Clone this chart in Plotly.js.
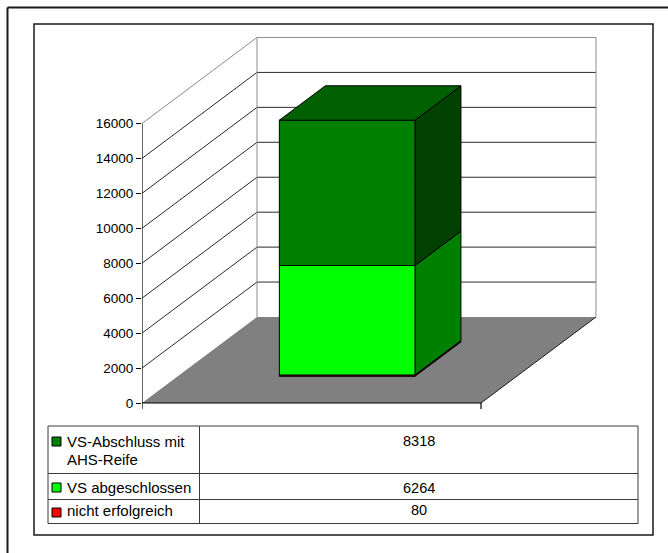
<!DOCTYPE html>
<html><head><meta charset="utf-8">
<script src="https://cdn.plot.ly/plotly-3.0.1.min.js"></script>
<style>html,body{margin:0;padding:0;background:#fff;} #chart{width:668px;height:553px;}</style>
</head><body><div id="chart"></div>
<script>
// ---- data ----
const categories = ['Gesamt'];
const seriesNames = ['nicht erfolgreich', 'VS abgeschlossen', 'VS-Abschluss mit AHS-Reife'];
const seriesValues = [80, 6264, 8318];
const seriesLabelLines = [['nicht erfolgreich'], ['VS abgeschlossen'], ['VS-Abschluss mit', 'AHS-Reife']];
const tickValues = [0, 2000, 4000, 6000, 8000, 10000, 12000, 14000, 16000];
const tickLabels = ['0', '2000', '4000', '6000', '8000', '10000', '12000', '14000', '16000'];
const frontColors = ['#FF0000', '#00FF00', '#008000'];
const sideColors = ['#800000', '#008000', '#004000'];
const topColors = ['#B00000', '#00B000', '#006000'];

// ---- layout geometry (pixels) ----
const W = 668, H = 553;
const M = {l: 142, r: 70, t: 36, b: 144};
const plotW = W - M.l - M.r, plotH = H - M.t - M.b;
const pxPerCat = 339;              // front category width in px
const pxPerUnit = 34.94 / 2000;     // value scale
const depthPx = {x: 115, y: 86};
const DX = depthPx.x / pxPerCat;    // depth shift in category units
const DY = depthPx.y / pxPerUnit;   // depth shift in value units
const yMin = -6 / pxPerUnit;
const yMax = yMin + plotH / pxPerUnit;
const xMax = plotW / pxPerCat;
const barHalf = 0.2, bd0 = 0.31, bd1 = 0.71;
const FONT = 'Liberation Sans, Arial, sans-serif';

function proj(c, v, d) { return [c + d * DX, v + d * DY]; }
function poly(pts, fill, line, lw) {
  const xs = pts.map(p => p[0]), ys = pts.map(p => p[1]);
  xs.push(xs[0]); ys.push(ys[0]);
  return {type: 'scatter', mode: 'lines', x: xs, y: ys, fill: 'toself', fillcolor: fill,
    line: {color: line || fill, width: lw === undefined ? 1 : lw}, hoverinfo: 'skip', showlegend: false};
}
function segs(list, color, width) {
  const xs = [], ys = [];
  list.forEach(s => { xs.push(s[0][0], s[1][0], null); ys.push(s[0][1], s[1][1], null); });
  return {type: 'scatter', mode: 'lines', x: xs, y: ys, line: {color: color, width: width || 1},
    hoverinfo: 'skip', showlegend: false};
}

const traces = [];
// floor
traces.push(poly([proj(0,0,0), proj(categories.length,0,0), proj(categories.length,0,1), proj(0,0,1)], '#808080', '#808080', 0));
// gridlines on walls
const inner = tickValues.filter(v => v > 0 && v < tickValues[tickValues.length-1]);
const topV = tickValues[tickValues.length-1];
const gl = [];
inner.forEach(v => {
  gl.push([proj(0, v, 0), proj(0, v, 1)]);
  gl.push([proj(0, v, 1), proj(categories.length, v, 1)]);
});
traces.push(segs(gl, '#2a2a2a', 1));
traces.push(segs([
  [proj(0, topV, 0), proj(0, topV, 1)],
  [proj(0, topV, 1), proj(categories.length, topV, 1)],
  [proj(0, 0, 1), proj(0, topV, 1)],
  [proj(categories.length, 0, 1), proj(categories.length, topV, 1)]
], '#8c8c8c', 1));
// floor edges / axes
traces.push(segs([
  [proj(categories.length, 0, 0), proj(categories.length, 0, 1)]
], '#1a1a1a', 1));
traces.push(segs([
  [[0, yMin], proj(0, topV, 0)],
  [proj(0, 0, 0), proj(categories.length, 0, 0)],
  [[categories.length, 0], [categories.length, yMin]]
], '#000000', 1.2));

// bars
categories.forEach((cat, ci) => {
  const c0 = ci + 0.5 - barHalf, c1 = ci + 0.5 + barHalf;
  let base = 0;
  seriesValues.forEach((val, si) => {
    const top = base + val;
    traces.push(poly([proj(c1, base, bd0), proj(c1, base, bd1), proj(c1, top, bd1), proj(c1, top, bd0)], sideColors[si], '#000', 1));
    traces.push(poly([proj(c0, base, bd0), proj(c1, base, bd0), proj(c1, top, bd0), proj(c0, top, bd0)], frontColors[si], '#000', 1));
    traces.push(poly([proj(c0, top, bd0), proj(c1, top, bd0), proj(c1, top, bd1), proj(c0, top, bd1)], topColors[si], '#000', 1));
    base = top;
  });
});

// ---- data table (layout decoration in pixel coords) ----
function pxX(x) { return (x - M.l) / plotW; }
function pxY(y) { return (H - M.b - y) / plotH; }
const shapes = [];
function hline(x0, x1, y, color, w) { shapes.push({type: 'line', xref: 'paper', yref: 'paper', x0: pxX(x0), x1: pxX(x1), y0: pxY(y), y1: pxY(y), line: {color: color, width: w}}); }
function vline(x, y0, y1, color, w) { shapes.push({type: 'line', xref: 'paper', yref: 'paper', x0: pxX(x), x1: pxX(x), y0: pxY(y0), y1: pxY(y1), line: {color: color, width: w}}); }
// outer frame (top & left visible)
hline(7.5, 700, 7.5, '#1a1a1a', 2);
vline(7.5, 7.5, 600, '#1a1a1a', 2);
// inner chart area border
shapes.push({type: 'rect', xref: 'paper', yref: 'paper', x0: pxX(34), x1: pxX(653), y0: pxY(535), y1: pxY(24), line: {color: '#1a1a1a', width: 1.5}});

const tbl = {x0: 48, x1: 638, xs: 199.5, rows: [426, 473.5, 499.5, 523.5]};
shapes.push({type: 'rect', xref: 'paper', yref: 'paper', x0: pxX(tbl.x0), x1: pxX(tbl.x1), y0: pxY(tbl.rows[3]), y1: pxY(tbl.rows[0]), line: {color: '#3a3a3a', width: 1}});
hline(tbl.x0, tbl.x1, tbl.rows[1], '#3a3a3a', 1);
hline(tbl.x0, tbl.x1, tbl.rows[2], '#3a3a3a', 1);
vline(tbl.xs, tbl.rows[0], tbl.rows[3], '#3a3a3a', 1);

const annotations = [];
const rowBaselines = [[446, 464], [493], [515]];
const keyTops = [437, 483, 508];
const order = seriesValues.map((v, i) => i).reverse();
order.forEach((si, r) => {
  shapes.push({type: 'rect', xref: 'paper', yref: 'paper', x0: pxX(52), x1: pxX(61), y0: pxY(keyTops[r] + 9), y1: pxY(keyTops[r]),
    fillcolor: frontColors[si], line: {color: '#000', width: 1}});
  seriesLabelLines[si].forEach((txt, li) => {
    annotations.push({xref: 'paper', yref: 'paper', x: pxX(65), y: pxY(rowBaselines[r][li] - 5), xanchor: 'left', yanchor: 'middle',
      text: txt, showarrow: false, font: {family: FONT, size: 15, color: '#000'}});
  });
  annotations.push({xref: 'paper', yref: 'paper', x: pxX((tbl.xs + tbl.x1) / 2), y: pxY(rowBaselines[r][0] - 5), xanchor: 'center', yanchor: 'middle',
    text: String(seriesValues[si]), showarrow: false, font: {family: FONT, size: 14.5, color: '#000'}});
});

const layout = {
  width: W, height: H, margin: M, showlegend: false,
  paper_bgcolor: '#ffffff', plot_bgcolor: 'rgba(0,0,0,0)',
  xaxis: {range: [0, xMax], visible: true, showgrid: false, zeroline: false, showline: false, showticklabels: false, ticks: '', fixedrange: true},
  yaxis: {range: [yMin, yMax], showgrid: false, zeroline: false, showline: false,
    tickmode: 'array', tickvals: tickValues, ticktext: tickLabels, ticks: 'outside', ticklen: 5, tickwidth: 1, tickcolor: '#000',
    tickfont: {family: FONT, size: 13.5, color: '#000'}, fixedrange: true},
  shapes: shapes, annotations: annotations
};
Plotly.newPlot('chart', traces, layout, {staticPlot: true, displayModeBar: false});
</script></body></html>
